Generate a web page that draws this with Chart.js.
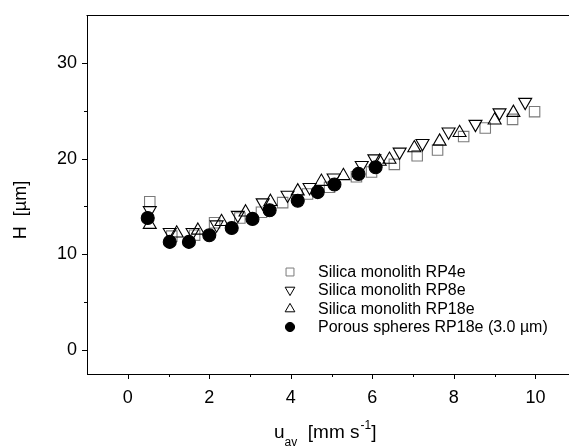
<!DOCTYPE html>
<html>
<head>
<meta charset="utf-8">
<script src="https://cdn.jsdelivr.net/npm/chart.js@4/dist/chart.umd.min.js"></script>
<style>
  html, body { margin: 0; padding: 0; background: #fff; }
  #wrap { width: 569px; height: 448px; }
</style>
</head>
<body>
<div id="wrap"><canvas id="c" width="569" height="448"></canvas></div>
<script>
// ---- data ----
const legendLabels = ["Silica monolith RP4e", "Silica monolith RP8e", "Silica monolith RP18e", "Porous spheres RP18e (3.0 µm)"];

const rp4eX = [0.54, 1.08, 1.64, 2.13, 2.75, 3.28, 3.80, 4.41, 4.95, 5.61, 5.98, 6.54, 7.10, 7.60, 8.24, 8.77, 9.44, 9.98];
const rp4eY = [15.5, 11.9, 12.0, 13.3, 13.8, 14.4, 15.4, 16.3, 17.0, 18.1, 18.6, 19.4, 20.3, 20.9, 22.3, 23.2, 24.1, 24.9];

const rp8eX = [0.54, 1.03, 1.59, 2.18, 2.70, 3.31, 3.92, 4.46, 5.05, 5.74, 6.05, 6.67, 7.23, 7.87, 8.53, 9.12, 9.75];
const rp8eY = [14.6, 12.3, 12.3, 13.1, 14.1, 15.4, 16.2, 17.0, 18.0, 19.3, 20.0, 20.7, 21.6, 22.8, 23.6, 24.8, 25.9];

const rp18eX = [0.54, 1.20, 1.72, 2.30, 2.89, 3.50, 4.17, 4.75, 5.29, 6.18, 6.42, 7.03, 7.65, 8.14, 9.00, 9.46];
const rp18eY = [13.1, 12.2, 12.5, 13.4, 14.4, 15.5, 16.6, 17.6, 18.2, 19.7, 19.9, 21.1, 21.8, 22.7, 24.0, 24.8];

const sphX = [0.49, 1.03, 1.50, 2.00, 2.55, 3.06, 3.48, 4.17, 4.66, 5.07, 5.66, 6.08];
const sphY = [13.8, 11.3, 11.3, 12.0, 12.75, 13.7, 14.6, 15.6, 16.5, 17.3, 18.4, 19.1];

const xMajorTicks = [0, 2, 4, 6, 8, 10];
const xMinorTicks = [1, 3, 5, 7, 9];
const yMajorTicks = [0, 10, 20, 30];
const yMinorTicks = [5, 15, 25];

// ---- helpers ----
const pts = (xs, ys) => xs.map((x, i) => ({ x: x, y: ys[i] }));
const FONT = '"Liberation Sans", Arial, Helvetica, sans-serif';

const styles = [
  { pointStyle: 'rect', rotation: 0, border: '#7a7a7a', fill: 'rgba(255,255,255,0)', r: 7.4, lr: 5.6 },
  { pointStyle: 'triangle', rotation: 180, border: '#000', fill: 'rgba(255,255,255,0)', r: 7.5, lr: 5.6 },
  { pointStyle: 'triangle', rotation: 0, border: '#000', fill: 'rgba(255,255,255,0)', r: 7.5, lr: 5.6 },
  { pointStyle: 'circle', rotation: 0, border: '#000', fill: '#000', r: 6.5, lr: 4.6 }
];
const seriesData = [pts(rp4eX, rp4eY), pts(rp8eX, rp8eY), pts(rp18eX, rp18eY), pts(sphX, sphY)];

const datasets = seriesData.map((d, i) => ({
  label: legendLabels[i],
  data: d,
  showLine: false,
  pointStyle: styles[i].pointStyle,
  rotation: styles[i].rotation,
  pointRadius: styles[i].r,
  pointHoverRadius: styles[i].r,
  borderColor: styles[i].border,
  backgroundColor: styles[i].fill,
  pointBorderWidth: 1.1,
  borderWidth: 1.1,
  order: 4 - i
}));

const decor = {
  id: 'decor',
  afterDraw(chart) {
    const ctx = chart.ctx;
    const ca = chart.chartArea;
    const xs = chart.scales.x, ys = chart.scales.y;
    ctx.save();
    ctx.strokeStyle = '#000';
    ctx.lineWidth = 1;
    // top frame line
    ctx.beginPath();
    ctx.moveTo(ca.left - 0.5, Math.round(ca.top) + 0.5);
    ctx.lineTo(chart.width, Math.round(ca.top) + 0.5);
    ctx.stroke();
    // ticks
    const drawXT = (v, len) => {
      const px = Math.round(xs.getPixelForValue(v)) + 0.5;
      ctx.beginPath(); ctx.moveTo(px, ca.bottom); ctx.lineTo(px, ca.bottom + len); ctx.stroke();
    };
    const drawYT = (v, len) => {
      const py = Math.round(ys.getPixelForValue(v)) + 0.5;
      ctx.beginPath(); ctx.moveTo(ca.left, py); ctx.lineTo(ca.left - len, py); ctx.stroke();
    };
    xMajorTicks.forEach(v => drawXT(v, 5));
    xMinorTicks.forEach(v => drawXT(v, 3));
    yMajorTicks.forEach(v => drawYT(v, 5));
    yMinorTicks.forEach(v => drawYT(v, 3));

    // legend
    const lx = 290, ly = [272, 290, 309, 327];
    ctx.font = '16px ' + FONT;
    ctx.textBaseline = 'middle';
    ctx.textAlign = 'left';
    legendLabels.forEach((lab, i) => {
      const s = styles[i];
      ctx.fillStyle = s.fill;
      ctx.strokeStyle = s.border;
      ctx.lineWidth = 1;
      Chart.helpers.drawPoint(ctx, { pointStyle: s.pointStyle, rotation: s.rotation, radius: s.lr, borderWidth: 1 }, lx, ly[i]);
      ctx.fillStyle = '#000';
      ctx.fillText(lab, 318, ly[i] + 1);
    });

    // y axis title
    ctx.fillStyle = '#000';
    ctx.save();
    ctx.translate(26, 210);
    ctx.rotate(-Math.PI / 2);
    ctx.font = '18px ' + FONT;
    ctx.textAlign = 'center';
    ctx.textBaseline = 'alphabetic';
    ctx.fillText('H  [µm]', 0, 0);
    ctx.restore();

    // x axis title: u_av [mm s^-1]
    ctx.textBaseline = 'alphabetic';
    ctx.textAlign = 'left';
    let x = 274, base = 438;
    ctx.font = '19px ' + FONT;
    ctx.fillText('u', x, base); x += ctx.measureText('u').width;
    ctx.font = '12px ' + FONT;
    ctx.fillText('av', x, base + 8); x += ctx.measureText('av').width;
    ctx.font = '19px ' + FONT;
    ctx.fillText('  [mm s', x, base); x += ctx.measureText('  [mm s').width;
    ctx.font = '12px ' + FONT;
    ctx.fillText('-1', x + 1, base - 9); x += ctx.measureText('-1').width + 1;
    ctx.font = '19px ' + FONT;
    ctx.fillText(']', x, base);
    ctx.restore();
  }
};

new Chart(document.getElementById('c'), {
  type: 'scatter',
  data: { datasets: datasets },
  options: {
    responsive: false,
    animation: false,
    events: [],
    layout: { autoPadding: false, padding: { left: 0, right: 1, top: 15, bottom: 0 } },
    plugins: { legend: { display: false }, tooltip: { enabled: false } },
    scales: {
      x: {
        type: 'linear',
        min: -1, max: 10.8,
        grid: { display: false, drawTicks: false },
        border: { display: true, color: '#000', width: 1 },
        ticks: {
          autoSkip: false,
          maxRotation: 0,
          padding: 13,
          color: '#000',
          font: { family: FONT, size: 18 }
        },
        afterBuildTicks: s => { s.ticks = xMajorTicks.map(v => ({ value: v })); },
        afterFit: s => { s.height = 74; s.paddingLeft = 0; s.paddingRight = 0; }
      },
      y: {
        type: 'linear',
        min: -2.5, max: 35,
        grid: { display: false, drawTicks: false },
        border: { display: true, color: '#000', width: 1 },
        ticks: {
          autoSkip: false,
          padding: 10,
          color: '#000',
          font: { family: FONT, size: 18 }
        },
        afterBuildTicks: s => { s.ticks = yMajorTicks.map(v => ({ value: v })); },
        afterFit: s => { s.width = 87; s.paddingTop = 0; s.paddingBottom = 0; }
      }
    }
  },
  plugins: [decor]
});
</script>
</body>
</html>
